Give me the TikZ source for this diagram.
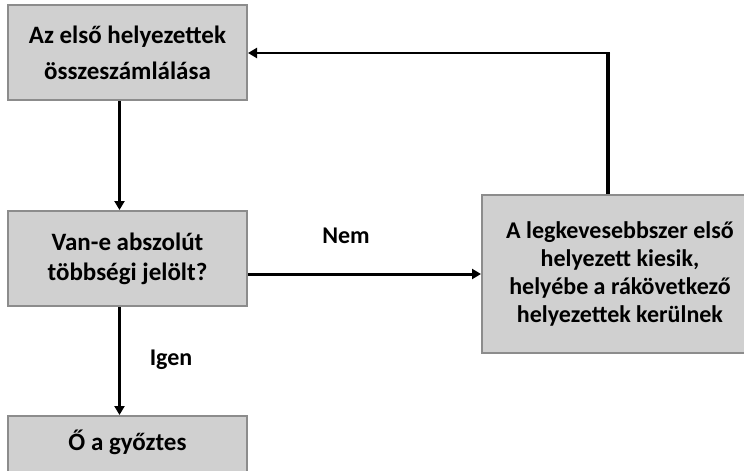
\documentclass[tikz,border=0pt]{standalone}
\usepackage{fontspec}
\setmainfont{Carlito}
\usetikzlibrary{arrows.meta,calc}
\definecolor{boxfill}{HTML}{D0D0D0}
\definecolor{boxline}{HTML}{8C8C8C}
\begin{document}
\begin{tikzpicture}[x=1pt,y=-1pt,
  box/.style={draw=boxline,line width=2pt,fill=boxfill,inner sep=0pt,align=center,
    font=\fontsize{25}{30}\selectfont\bfseries},
  conn/.style={line width=3pt,-{Triangle[length=9pt,width=10pt]}},
  lbl/.style={font=\fontsize{24}{26}\selectfont\bfseries}]
\useasboundingbox (0,0) rectangle (744,471);
\begin{scope}
\clip (0,0) rectangle (744,471);
\node[box,minimum width=239pt,minimum height=95pt,font=\fontsize{25}{36}\selectfont\bfseries] (top) at (127.5,52.5) {Az első helyezettek\\összeszámlálása};
\node[box,minimum width=239pt,minimum height=95pt] (mid) at (127.5,258.5) {Van-e abszolút\\többségi jelölt?};
\node[box,minimum width=239pt,minimum height=95pt,anchor=north] (win) at (127.5,415) {};
\node[font=\fontsize{25}{30}\selectfont\bfseries] (wint) at (127.5,442) {Ő a győztes};
\node[box,minimum width=276pt,minimum height=158pt,font=\fontsize{24}{28}\selectfont\bfseries] (right) at (620,274) {A legkevesebbszer első\\helyezett kiesik,\\helyébe a rákövetkező\\helyezettek kerülnek};
\end{scope}
\coordinate (corner) at (608,53);
\draw[conn] ([xshift=-8pt]top.south) -- ([xshift=-8pt]mid.north);
\draw[conn] ([xshift=-8pt]mid.south) -- ([xshift=-8pt]win.north);
\draw[conn] (mid.east |- 0,274) -- (right.west |- 0,274);
\draw[line width=4pt] (corner |- right.north) -- ([yshift=-1pt]corner);
\draw[line width=2.7pt,-{Triangle[length=9pt,width=10pt]}] ([xshift=2pt]corner) -- (top.east |- corner);
\node[lbl] (nem) at (346,236) {Nem};
\node[lbl] (igen) at (171,360) {Igen};
\end{tikzpicture}
\end{document}
